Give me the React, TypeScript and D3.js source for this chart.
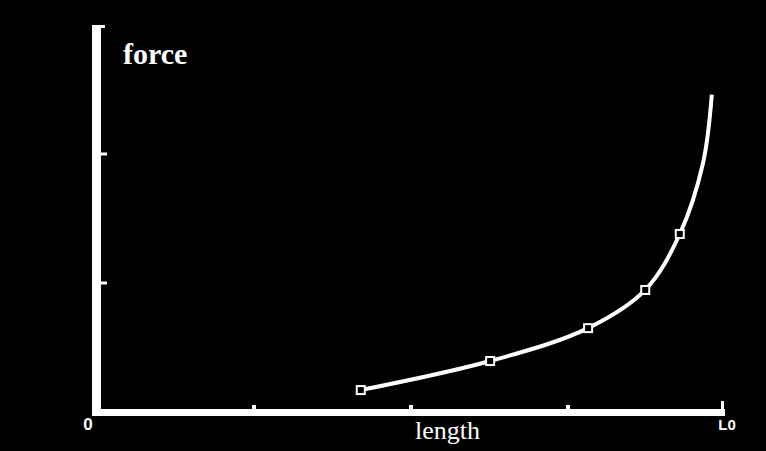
import React, { useEffect, useRef } from 'react';
import * as d3 from 'd3';

// length values (fraction of full length) and force
const lengthValues = [0.42, 0.626, 0.782, 0.873, 0.928, 0.965, 0.979];
const forceValues = [0.17, 0.395, 0.65, 0.946, 1.38, 1.93, 2.46];
// only the measured points carry a square marker
const markerCount = 5;
const yTicks = [1, 2];
const xTicks = [0.25, 0.5, 0.75];
const xEndLabels = ['0', 'L0'];

const WIDTH = 766;
const HEIGHT = 451;

const App: React.FC = () => {
  const svgRef = useRef<SVGSVGElement>(null);

  useEffect(() => {
    const svg = d3.select(svgRef.current);
    svg.selectAll('*').remove();

    svg.append('rect')
      .attr('width', WIDTH)
      .attr('height', HEIGHT)
      .attr('fill', '#000');

    const xScale = d3.scaleLinear().domain([0, 1]).range([97, 725]);
    const yScale = d3.scaleLinear().domain([0, 3]).range([412, 25]);

    // Y axis (thick white bar with a little hook on top)
    svg.append('rect')
      .attr('x', 92).attr('y', 25)
      .attr('width', 9).attr('height', 391)
      .attr('fill', '#fff');
    svg.append('rect')
      .attr('x', 92).attr('y', 25)
      .attr('width', 13).attr('height', 3)
      .attr('fill', '#fff');

    // X axis
    svg.append('rect')
      .attr('x', 92).attr('y', 409)
      .attr('width', xScale(1) - 92).attr('height', 7)
      .attr('fill', '#fff');

    // Y ticks
    svg.selectAll('.ytick')
      .data(yTicks)
      .enter().append('rect')
      .attr('class', 'ytick')
      .attr('x', 101)
      .attr('y', d => yScale(d) - 1.5)
      .attr('width', 6)
      .attr('height', 3)
      .attr('fill', '#fff');

    // X ticks
    svg.selectAll('.xtick')
      .data(xTicks)
      .enter().append('rect')
      .attr('class', 'xtick')
      .attr('x', d => xScale(d) - 2)
      .attr('y', 405)
      .attr('width', 4)
      .attr('height', 4)
      .attr('fill', '#fff');
    svg.append('rect')
      .attr('x', xScale(1) - 4).attr('y', 401)
      .attr('width', 3).attr('height', 8)
      .attr('fill', '#fff');

    // End labels on the x axis
    svg.selectAll('.xend')
      .data(xEndLabels)
      .enter().append('text')
      .attr('class', 'xend')
      .attr('x', (_d, i) => (i === 0 ? 88 : 727))
      .attr('y', 430)
      .attr('text-anchor', 'middle')
      .attr('fill', '#fff')
      .attr('font-family', 'Liberation Sans, Arial, sans-serif')
      .attr('font-weight', 'bold')
      .attr('font-size', (_d, i) => (i === 0 ? 17 : 15))
      .text(d => d);

    // Axis titles
    svg.append('text')
      .attr('x', 123)
      .attr('y', 64)
      .attr('fill', '#fff')
      .attr('font-family', 'Liberation Serif, Times New Roman, serif')
      .attr('font-weight', 'bold')
      .attr('font-size', 30)
      .text('force');

    svg.append('text')
      .attr('x', 415)
      .attr('y', 439)
      .attr('fill', '#fff')
      .attr('font-family', 'Liberation Serif, Times New Roman, serif')
      .attr('font-size', 26)
      .text('length');

    const points = lengthValues.map((l, i) => ({ x: l, y: forceValues[i] }));

    const line = d3.line<{ x: number; y: number }>()
      .x(d => xScale(d.x))
      .y(d => yScale(d.y))
      .curve(d3.curveCatmullRom.alpha(0.5));

    svg.append('path')
      .datum(points)
      .attr('fill', 'none')
      .attr('stroke', '#fff')
      .attr('stroke-width', 4)
      .attr('d', line);

    svg.selectAll('.marker')
      .data(points.slice(0, markerCount))
      .enter().append('rect')
      .attr('class', 'marker')
      .attr('x', d => xScale(d.x) - 4)
      .attr('y', d => yScale(d.y) - 4)
      .attr('width', 8)
      .attr('height', 8)
      .attr('fill', '#000')
      .attr('stroke', '#fff')
      .attr('stroke-width', 2);
  }, []);

  return (
    <svg
      ref={svgRef}
      width={WIDTH}
      height={HEIGHT}
      style={{ position: 'absolute', left: 0, top: 0, display: 'block' }}
    />
  );
};

export default App;
